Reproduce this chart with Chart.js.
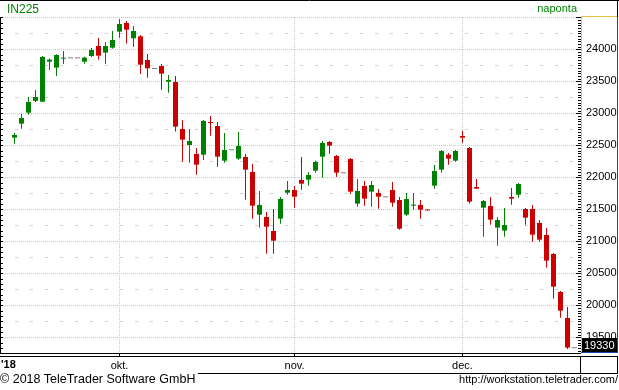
<!DOCTYPE html>
<html>
<head>
<meta charset="utf-8">
<script src="https://cdn.jsdelivr.net/npm/chart.js@4.4.1/dist/chart.umd.min.js"></script>
<style>
  html, body { margin: 0; padding: 0; background: #fff; }
  #wrap { position: relative; width: 619px; height: 390px; overflow: hidden; font-family: "Liberation Sans", Arial, sans-serif; }
  canvas { position: absolute; left: 0; top: 0; }
  .txt { position: absolute; white-space: nowrap; line-height: 1; color: #000; }
</style>
</head>
<body>
<div id="wrap">
  <canvas id="chart" width="619" height="390"></canvas>
  <div class="txt" style="left:7px; top:3px; font-size:12px; color:#008000;">IN225</div>
  <div class="txt" style="right:42px; top:3px; font-size:11px; color:#008000;">naponta</div>
  <div class="txt" style="left:1px; top:359px; font-size:11px; font-weight:bold;">'18</div>
  <div class="txt" style="left:0; top:373px; font-size:12.5px;">© 2018 TeleTrader Software GmbH</div>
  <div class="txt" style="right:1px; top:374px; font-size:11px;">http://workstation.teletrader.com/</div>
</div>
<script>
const FONT = '"Liberation Sans", Arial, sans-serif';
const GREEN = "#008000";
const RED = "#cc0000";
const GRAY = "#808080";

// daily candles, Nikkei 225 (IN225), Sep - Dec 2018
const opens = [
  22620, 22839, 23010, 23193, 23182, 23807, 23714, 23854, 23859, 23859,
  23807, 23896, 24052, 23948, 24026, 24276, 24411, 24172, 24203, 23833,
  23693, 23740, 23495, 23490, 22755, 22505, 22365, 22354, 22865, 22802,
  22260, 22422, 22292, 22318, 22083, 21417, 21380, 21161, 21354, 21760,
  21802, 21958, 21964, 22104, 22323, 22552, 22333, 22063, 22287, 21589,
  21865, 21776, 21755, 21687, 21802, 21646, 21417, 21557, 21568, 21490,
  21870, 22120, 22354, 22260, 22646, 22458, 21849, 21526, 21552, 21214,
  21167, 21693, 21729, 21505, 21505, 21287, 21099, 20802, 20208, 19802,
  19330,
];
const highs = [
  22698, 22995, 23255, 23365, 23896, 23854, 23922, 23974, 23859, 23859,
  23885, 24021, 24177, 24115, 24286, 24474, 24443, 24365, 24224, 23927,
  23693, 23771, 23599, 23583, 22896, 22755, 22458, 22896, 22958, 22865,
  22693, 22422, 22708, 22365, 22208, 21787, 21458, 21505, 21693, 21943,
  21865, 22318, 22083, 22260, 22568, 22568, 22349, 22063, 22302, 21974,
  21943, 21943, 21818, 21687, 21927, 21693, 21755, 21755, 21646, 21490,
  22193, 22427, 22380, 22427, 22724, 22474, 21974, 21646, 21693, 21380,
  21521, 21833, 21911, 21521, 21568, 21333, 21208, 20818, 20224, 19974,
  19330,
];
const lows = [
  22526, 22760, 22979, 23177, 23172, 23677, 23583, 23771, 23859, 23859,
  23776, 23880, 23839, 23776, 24010, 24182, 24089, 24036, 23615, 23557,
  23693, 23370, 23323, 22714, 22245, 22229, 22042, 22271, 22651, 22167,
  22229, 22422, 22276, 21651, 21354, 21214, 20807, 20807, 21276, 21729,
  21526, 21807, 21870, 22073, 21995, 22370, 22005, 22063, 21745, 21542,
  21557, 21542, 21510, 21687, 21542, 21182, 21401, 21495, 21354, 21480,
  21823, 22073, 22198, 22245, 22542, 21589, 21823, 21073, 21260, 20932,
  21073, 21573, 21682, 21260, 20995, 20995, 20589, 20104, 19807, 19318,
  19330,
];
const closes = [
  22661, 22927, 23177, 23255, 23880, 23839, 23911, 23870, 23859, 23859,
  23870, 23990, 23901, 24052, 24146, 24396, 24307, 24286, 23760, 23703,
  23693, 23620, 23521, 22792, 22589, 22568, 22198, 22880, 22849, 22323,
  22427, 22422, 22490, 22120, 21557, 21568, 21229, 21010, 21661, 21802,
  21698, 21901, 22036, 22240, 22536, 22495, 22073, 22063, 21776, 21787,
  21667, 21880, 21698, 21687, 21604, 21198, 21661, 21573, 21495, 21482,
  22099, 22412, 22292, 22412, 22620, 21620, 21823, 21630, 21339, 21333,
  21255, 21667, 21896, 21370, 21104, 21026, 20698, 20292, 19917, 19339,
  19330,
];

// month axis: candle index where each month starts
const monthLabels = ["okt.", "nov.", "dec."];
const monthStart = [15, 40, 64];

const priceTicks = [19500, 20000, 20500, 21000, 21500, 22000, 22500, 23000, 23500, 24000, 24500];
const lastPrice = 19330;

const colors = opens.map((o, i) => {
  if (closes[i] > o) return GREEN;
  if (closes[i] < o) return RED;
  return GRAY;
});
const wicks = opens.map((o, i) => ({ x: i, y: [lows[i], highs[i]] }));
const bodies = opens.map((o, i) => ({ x: i, y: [o, closes[i]] }));

const framePlugin = {
  id: "frame",
  beforeDatasetsDraw(chart) {
    const { ctx, chartArea: a, scales } = chart;
    const y = scales.y;
    // dashed half-step lines between the dotted grid lines
    ctx.save();
    ctx.strokeStyle = "#cfcfcf";
    ctx.lineWidth = 1;
    ctx.setLineDash([3, 12]);
    ctx.lineDashOffset = 1;
    for (let v = priceTicks[0] - 250; v < y.max; v += 500) {
      if (v <= y.min) continue;
      const py = Math.round(y.getPixelForValue(v)) + 0.5;
      ctx.beginPath();
      ctx.moveTo(a.left, py);
      ctx.lineTo(a.right, py);
      ctx.stroke();
    }
    ctx.restore();
  },
  afterDraw(chart) {
    const { ctx, chartArea: a, scales } = chart;
    const y = scales.y;
    const W = chart.width;
    const line = (x1, y1, x2, y2, color) => {
      ctx.strokeStyle = color;
      ctx.beginPath();
      ctx.moveTo(x1, y1);
      ctx.lineTo(x2, y2);
      ctx.stroke();
    };
    ctx.save();
    ctx.lineWidth = 1;

    // left axis with small ticks
    line(0.5, a.top, 0.5, a.bottom, "#000");
    for (let v = priceTicks[0] - 500; v < y.max; v += 500 / 6) {
      if (v < y.min) continue;
      const py = Math.round(y.getPixelForValue(v)) + 0.5;
      line(0, py, 3, py, "#000");
    }

    // right axis ticks
    for (let v = priceTicks[0] - 500; v < y.max; v += 500 / 12) {
      if (v < y.min) continue;
      const py = Math.round(y.getPixelForValue(v)) + 0.5;
      line(a.right - 2, py, a.right + 1, py, "#000");
    }
    for (const v of priceTicks) {
      const py = Math.round(y.getPixelForValue(v)) + 0.5;
      line(a.right - 4, py, a.right + 1, py, "#000");
    }

    // price panel borders
    line(a.right + 1.5, a.top, a.right + 1.5, a.bottom, "#f0c040");
    line(a.right + 1, a.top - 0.5, W - 2, a.top - 0.5, "#f0c040");
    line(W - 1.5, a.top, W - 1.5, a.bottom, "#2040c0");
    line(a.right + 1, a.bottom - 0.5, W - 1, a.bottom - 0.5, "#2040c0");

    // outer frame and date strip
    line(0, 0.5, W, 0.5, "#000");
    line(W - 1.5, 0, W - 1.5, a.top, "#000");
    line(0, a.bottom + 0.5, a.right + 1, a.bottom + 0.5, "#000");
    line(0, a.bottom + 3.5, W - 1, a.bottom + 3.5, "#000");
    line(198, a.bottom + 20.5, W - 1, a.bottom + 20.5, "#000");
    line(a.right + 0.5, a.bottom + 3, a.right + 0.5, a.bottom + 21, "#000");
    line(W - 1.5, a.bottom + 3, W - 1.5, a.bottom + 21, "#000");

    // last price box
    const py = y.getPixelForValue(lastPrice);
    const boxTop = Math.round(Math.min(py - 7, a.bottom - 15));
    ctx.fillStyle = "#000";
    ctx.fillRect(a.right + 2, boxTop, W - a.right - 4, 14);
    ctx.fillStyle = "#fff";
    ctx.font = "11px " + FONT;
    ctx.textBaseline = "middle";
    ctx.textAlign = "left";
    ctx.fillText(String(lastPrice), a.right + 4, boxTop + 7.5);
    ctx.restore();
  },
};

new Chart(document.getElementById("chart"), {
  type: "bar",
  data: {
    datasets: [
      {
        label: "wick",
        data: wicks,
        backgroundColor: colors,
        barThickness: 1,
        grouped: false,
        inflateAmount: 0,
        order: 2,
      },
      {
        label: "body",
        data: bodies,
        backgroundColor: colors,
        barThickness: 5,
        grouped: false,
        inflateAmount: 0,
        minBarLength: 1,
        order: 1,
      },
    ],
  },
  options: {
    responsive: false,
    animation: false,
    events: [],
    layout: { padding: { left: 1, top: 17, right: 0, bottom: 17 } },
    plugins: { legend: { display: false }, tooltip: { enabled: false } },
    scales: {
      x: {
        type: "linear",
        min: -1.9286,
        max: 80.786,
        offset: false,
        afterBuildTicks: (scale) => {
          scale.ticks = monthStart.map((v) => ({ value: v }));
        },
        afterFit: (scale) => {
          scale.height = 20;
        },
        ticks: {
          callback: (value, index) => monthLabels[index],
          autoSkip: false,
          maxRotation: 0,
          padding: 3,
          color: "#000",
          font: { family: FONT, size: 11 },
        },
        grid: { offset: false, color: "#c8c8c8", tickColor: "#000", tickLength: 3 },
        border: { display: false, dash: [1, 1] },
      },
      y: {
        position: "right",
        min: 19255,
        max: 24505,
        afterBuildTicks: (scale) => {
          scale.ticks = priceTicks.map((v) => ({ value: v }));
        },
        afterFit: (scale) => {
          scale.width = 39;
        },
        ticks: {
          callback: (value) => (value < 24500 ? String(value) : ""),
          padding: 6,
          color: "#000",
          font: { family: FONT, size: 11 },
        },
        grid: { color: "#c8c8c8", drawTicks: false },
        border: { display: false, dash: [1, 1] },
      },
    },
  },
  plugins: [framePlugin],
});
</script>
</body>
</html>
